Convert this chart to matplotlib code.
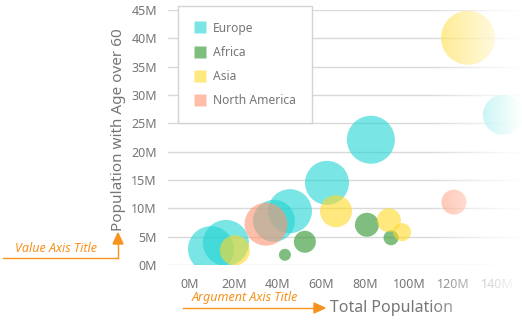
import numpy as np
import matplotlib.pyplot as plt
from matplotlib.lines import Line2D

# ----------------------------------------------
# data (millions), bubble size = relative size value
europe_total = [9.6, 16.4, 38.3, 45.6, 62.5, 82.5, 142.7]
europe_older = [2.8, 3.9, 7.8, 9.5, 14.5, 22.1, 26.5]
europe_size = [23, 23, 21, 22, 22, 24, 20]

africa_total = [43.3, 52.4, 80.7, 91.7]
africa_older = [1.8, 4.1, 7.1, 4.8]
africa_size = [6, 11, 12, 7.5]

asia_total = [20.5, 66.6, 90.7, 96.7, 126.8]
asia_older = [2.6, 9.5, 7.9, 5.8, 40.1]
asia_size = [15, 16, 12, 9, 27]

namerica_total = [34.7, 120.4]
namerica_older = [7.2, 11.1]
namerica_size = [21.5, 12.5]

x_ticks = [0, 20, 40, 60, 80, 100, 120, 140]
y_ticks = [0, 5, 10, 15, 20, 25, 30, 35, 40, 45]

series = [
    ('Europe', europe_total, europe_older, europe_size, '#21d4d4'),
    ('Africa', africa_total, africa_older, africa_size, '#2b942b'),
    ('Asia', asia_total, asia_older, asia_size, '#ffd926'),
    ('North America', namerica_total, namerica_older, namerica_size, '#ff9371'),
]

plt.rcParams['font.family'] = ['Noto Sans', 'DejaVu Sans']
W, H = 522, 324
fig = plt.figure(figsize=(W / 100, H / 100), dpi=100)


def fx(px):
    return px / W


def fy(py):
    return 1 - py / H


ax = fig.add_axes([fx(168), fy(265), fx(522) - fx(168), fy(10) - fy(265)])
ax.set_xlim(-10, 151.4)
ax.set_ylim(0, 45)

for name, xs, ys, sz, col in series:
    s = [(1.44 * r) ** 2 for r in sz]
    ax.scatter(xs, ys, s=s, color=col, alpha=0.6, edgecolors='none', zorder=3, clip_on=True)

ax.set_xticks(x_ticks)
ax.set_xticklabels([f'{v}M' for v in x_ticks])
ax.set_yticks(y_ticks)
ax.set_yticklabels([f'{v}M' for v in y_ticks])
ax.tick_params(length=0, labelsize=9, colors='#767676')
ax.tick_params(axis='y', pad=8)
ax.tick_params(axis='x', pad=9)
ax.grid(axis='y', color='#d9d9d9', lw=1)
ax.set_axisbelow(True)
for sp in ax.spines.values():
    sp.set_visible(False)

handles = [Line2D([], [], ls='', marker='s', ms=8.6, color=col, alpha=0.6, mec='none')
           for name, _, _, _, col in series]
leg = ax.legend(handles, [s[0] for s in series], loc='upper left',
                bbox_to_anchor=(fx(178), fy(6)), bbox_transform=fig.transFigure,
                borderaxespad=0, fontsize=8.7, labelcolor='#767676', frameon=True,
                fancybox=False, edgecolor='#d3d3d3', framealpha=1,
                borderpad=1.3, labelspacing=0.92, handlelength=1.0, handletextpad=0.6)
leg.get_frame().set_linewidth(1)
leg.set_zorder(5)

# axis titles
fig.text(fx(118), fy(130), 'Population with Age over 60', rotation=90,
         ha='center', va='center', fontsize=11, color='#767676')
fig.text(fx(330), fy(308), 'Total Population', ha='left', va='center',
         fontsize=11.5, color='#767676')

# fade the right edge out to white
fade = fig.add_axes([fx(430), 0, 1 - fx(430), 1], zorder=10)
ramp = np.clip(np.linspace(0, 1, 200) ** 0.85, 0, 1)
img = np.ones((2, 200, 4))
img[:, :, 3] = ramp
fade.imshow(img, aspect='auto', extent=(0, 1, 0, 1))
fade.set_axis_off()

# orange annotations
orange = '#f7931e'
fig.text(fx(15), fy(248), 'Value Axis Title', ha='left', va='center',
         fontsize=9, style='italic', color=orange)
fig.add_artist(Line2D([fx(3), fx(118)], [fy(258), fy(258)], color=orange, lw=1,
                      transform=fig.transFigure))
fig.add_artist(Line2D([fx(118), fx(118)], [fy(258), fy(242)], color=orange, lw=1,
                      transform=fig.transFigure))
fig.add_artist(plt.Polygon([[fx(113), fy(244)], [fx(123), fy(244)], [fx(118), fy(233)]],
                           closed=True, color=orange, transform=fig.transFigure))

fig.text(fx(192), fy(298), 'Argument Axis Title', ha='left', va='center',
         fontsize=9, style='italic', color=orange)
fig.add_artist(Line2D([fx(183), fx(315)], [fy(308), fy(308)], color=orange, lw=1,
                      transform=fig.transFigure))
fig.add_artist(plt.Polygon([[fx(314), fy(303)], [fx(314), fy(313)], [fx(325), fy(308)]],
                           closed=True, color=orange, transform=fig.transFigure))

fig.savefig('out.png', dpi=100)
